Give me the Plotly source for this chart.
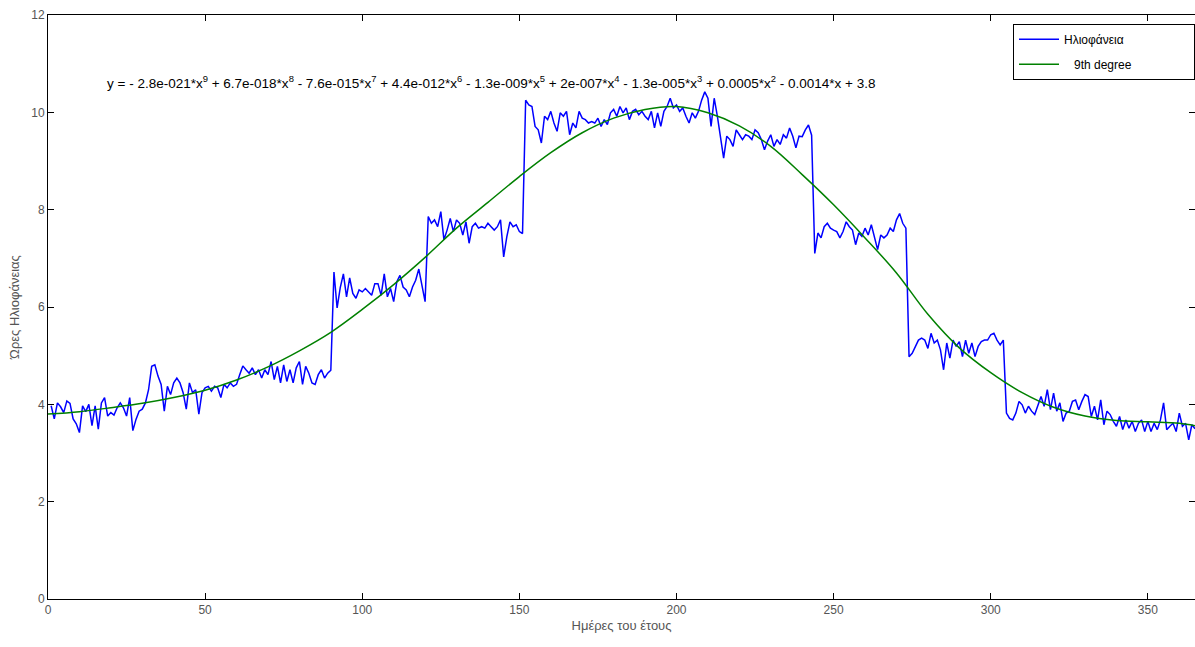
import plotly.graph_objects as go

# ---- data ----
jan = [3.97, 3.70, 4.03, 3.95, 3.83, 4.07, 4.02, 3.70, 3.60, 3.42, 3.97, 3.85, 4.00, 3.56, 3.97, 3.49,
       4.03, 4.14, 3.76, 3.83, 3.78, 3.93, 4.03, 3.93, 3.76, 4.14, 3.46, 3.69, 3.86, 3.90, 4.03]
feb = [4.30, 4.78, 4.81, 4.58, 4.41, 3.86, 4.37, 4.20, 4.44, 4.54, 4.44, 4.24, 3.90, 4.44, 4.24, 4.30,
       3.80, 4.24, 4.34, 4.37, 4.27, 4.37, 4.34, 4.14, 4.41, 4.34, 4.44, 4.37]
mar = [4.41, 4.61, 4.79, 4.71, 4.64, 4.75, 4.61, 4.71, 4.54, 4.71, 4.61, 4.88, 4.51, 4.78, 4.44, 4.81,
       4.47, 4.71, 4.44, 4.75, 4.88, 4.41, 4.78, 4.64, 4.44, 4.41, 4.61, 4.71, 4.54, 4.64, 4.70]
apr = [6.72, 5.98, 6.40, 6.68, 6.21, 6.60, 6.28, 6.18, 6.35, 6.31, 6.38, 6.31, 6.24, 6.48, 6.48, 6.24,
       6.68, 6.21, 6.38, 6.11, 6.52, 6.65, 6.41, 6.35, 6.21, 6.41, 6.55, 6.78, 6.48, 6.11]
may = [7.86, 7.72, 7.79, 7.65, 7.96, 7.38, 7.58, 7.82, 7.55, 7.79, 7.72, 7.48, 7.75, 7.31, 7.65, 7.72,
       7.62, 7.65, 7.62, 7.72, 7.65, 7.58, 7.65, 7.79, 7.03, 7.44, 7.75, 7.65, 7.69, 7.55, 7.51]
jun = [10.25, 10.15, 10.12, 9.71, 9.64, 9.37, 9.92, 9.85, 10.02, 9.78, 9.61, 9.99, 9.92, 10.02, 9.54,
       9.78, 9.68, 10.02, 9.88, 9.85, 9.78, 9.81, 9.78, 9.88, 9.71, 9.85, 9.75, 9.99, 10.06, 9.92]
jul = [10.12, 9.99, 10.09, 9.85, 10.02, 10.06, 9.95, 10.02, 9.92, 9.85, 10.02, 9.68, 9.99, 9.71, 10.02,
       10.12, 10.29, 10.09, 10.15, 10.02, 10.09, 9.92, 9.78, 9.99, 9.88, 10.02, 10.25, 10.42, 10.29, 9.71, 10.29]
aug = [9.92, 9.47, 9.06, 9.51, 9.44, 9.30, 9.64, 9.54, 9.44, 9.54, 9.51, 9.44, 9.64, 9.58, 9.44, 9.23,
       9.41, 9.54, 9.30, 9.44, 9.34, 9.54, 9.47, 9.68, 9.51, 9.27, 9.51, 9.50, 9.64, 9.74, 9.53]
sep = [7.10, 7.52, 7.42, 7.65, 7.72, 7.62, 7.58, 7.55, 7.42, 7.55, 7.75, 7.65, 7.58, 7.28, 7.52, 7.45,
       7.62, 7.48, 7.69, 7.45, 7.18, 7.48, 7.42, 7.48, 7.62, 7.55, 7.79, 7.92, 7.72, 7.62]
oct_ = [4.98, 5.05, 5.19, 5.32, 5.36, 5.32, 5.15, 5.46, 5.26, 5.32, 5.12, 4.71, 5.26, 4.95, 5.32, 5.19,
        5.29, 4.98, 5.32, 5.05, 5.26, 4.98, 5.19, 5.29, 5.32, 5.32, 5.43, 5.46, 5.32, 5.22, 5.32]
nov = [3.82, 3.71, 3.68, 3.82, 4.06, 3.99, 3.82, 3.96, 3.86, 3.79, 3.96, 4.16, 3.96, 4.30, 3.89, 4.23,
       3.86, 4.03, 3.65, 3.82, 3.86, 4.06, 4.09, 3.89, 4.06, 4.20, 4.16, 3.75, 3.96, 3.68]
dec = [4.09, 3.58, 3.86, 3.79, 3.65, 3.55, 3.75, 3.48, 3.68, 3.51, 3.65, 3.44, 3.61, 3.68, 3.44, 3.65,
       3.44, 3.61, 3.48, 3.68, 4.03, 3.48, 3.55, 3.61, 3.44, 3.82, 3.55, 3.61, 3.27, 3.58, 3.50]

fit_days = [0, 10, 20, 30, 40, 50, 60, 70, 80, 90, 100, 110, 120, 130, 140, 150, 160, 170, 180,
            190, 200, 210, 220, 230, 240, 250, 260, 270, 280, 290, 300, 310, 320, 330, 340, 350, 360, 365]
fit_vals = [3.80, 3.85, 3.93, 4.02, 4.14, 4.29, 4.50, 4.77, 5.10, 5.48, 5.95, 6.46, 7.02, 7.62, 8.15,
            8.68, 9.17, 9.58, 9.88, 10.06, 10.12, 9.99, 9.72, 9.30, 8.72, 8.10, 7.42, 6.70, 5.85,
            5.16, 4.65, 4.24, 3.94, 3.76, 3.67, 3.64, 3.61, 3.56]

x_ticks = [0, 50, 100, 150, 200, 250, 300, 350]
y_ticks = [0, 2, 4, 6, 8, 10, 12]

series_names = ["Ηλιοφάνεια", "9th degree"]

equation = ("y = - 2.8e-021*x<sup>9</sup> + 6.7e-018*x<sup>8</sup> - 7.6e-015*x<sup>7</sup> + "
            "4.4e-012*x<sup>6</sup> - 1.3e-009*x<sup>5</sup> + 2e-007*x<sup>4</sup> - "
            "1.3e-005*x<sup>3</sup> + 0.0005*x<sup>2</sup> - 0.0014*x + 3.8")

hours = jan + feb + mar + apr + may + jun + jul + aug + sep + oct_ + nov + dec
days = list(range(1, len(hours) + 1))

FONT = "Liberation Sans Narrow, Arial Narrow, Liberation Sans, Arial, sans-serif"
NB = "\u00a0"

fig = go.Figure()
fig.add_trace(go.Scatter(x=days, y=hours, mode="lines", name=series_names[0],
                         legendgroup="a", line=dict(color="#0000FF", width=1.5)))
fig.add_trace(go.Scatter(x=fit_days, y=fit_vals, mode="lines",
                         name=NB * 3 + series_names[1] + NB * 17,
                         legendgroup="b", line=dict(color="#008000", width=1.5, shape="spline")))

fig.update_layout(
    width=1195, height=647,
    margin=dict(l=48, r=0, t=15, b=48),
    paper_bgcolor="white", plot_bgcolor="white",
    font=dict(family=FONT, size=12, color="#555555"),
    showlegend=True,
    legend=dict(x=(1013 - 48) / 1147, y=0.985, xanchor="left", yanchor="top",
                bgcolor="white", bordercolor="black", borderwidth=1,
                tracegroupgap=6, itemwidth=40,
                font=dict(family=FONT, size=12, color="#000000")),
    annotations=[
        dict(text=equation, x=(105 - 48) / 1147, y=(599 - 82) / 584, xref="paper", yref="paper",
             xanchor="left", yanchor="middle", showarrow=False,
             font=dict(family=FONT, size=13.5, color="#000000")),
    ],
)
fig.update_xaxes(range=[0, 365], tickvals=x_ticks, ticks="inside", ticklen=6, tickcolor="black",
                 showline=True, linecolor="black", linewidth=1, mirror="ticks", showgrid=False,
                 zeroline=False, title=dict(text="Ημέρες του έτους", standoff=4,
                                            font=dict(size=13, color="#555555")))
fig.update_yaxes(range=[0, 12], tickvals=y_ticks, ticks="inside", ticklen=6, tickcolor="black",
                 showline=True, linecolor="black", linewidth=1, mirror="ticks", showgrid=False,
                 zeroline=False, title=dict(text="Ώρες Ηλιοφάνειας", standoff=8,
                                            font=dict(size=13, color="#555555")))

fig.write_html("out.html")
